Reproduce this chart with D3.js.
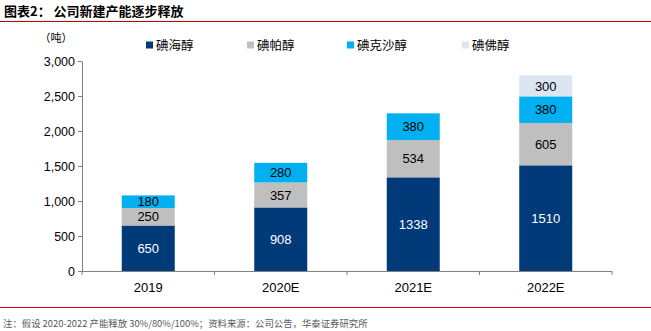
<!DOCTYPE html>
<html>
<head>
<meta charset="utf-8">
<script src="https://cdn.jsdelivr.net/npm/d3@7"></script>
<style>
  html, body { margin: 0; padding: 0; background: #fff; }
  svg { display: block; }
</style>
</head>
<body>
<svg id="chart" width="651" height="331"></svg>
<script>
// Capacity by product (tonnes), stacked per year
const years = ["2019", "2020E", "2021E", "2022E"];
const seriesNames = ["碘海醇", "碘帕醇", "碘克沙醇", "碘佛醇"];
const iohexol = [650, 908, 1338, 1510];
const iopamidol = [250, 357, 534, 605];
const iodixanol = [180, 280, 380, 380];
const ioversol = [0, 0, 0, 300];
const yTicks = [0, 500, 1000, 1500, 2000, 2500, 3000];

const colors = ["#003A78", "#BFBFBF", "#00B0F0", "#DCE6F2"];
const labelColors = ["#ffffff", "#000000", "#000000", "#000000"];

const rows = years.map((y, i) => ({
  year: y,
  "碘海醇": iohexol[i],
  "碘帕醇": iopamidol[i],
  "碘克沙醇": iodixanol[i],
  "碘佛醇": ioversol[i]
}));

const svg = d3.select("#chart");
const cjk = "'Noto Sans CJK SC', 'Noto Sans', sans-serif";
const latin = "'Liberation Sans', Arial, sans-serif";

// Title and rules
svg.append("text")
  .attr("x", 4).attr("y", 16)
  .attr("font-family", cjk).attr("font-weight", "bold")
  .attr("font-size", 13).attr("fill", "#000")
  .text("图表2：  公司新建产能逐步释放");
svg.append("line").attr("x1", 0).attr("x2", 651).attr("y1", 21.5).attr("y2", 21.5)
  .attr("stroke", "#C00000").attr("stroke-width", 1);
svg.append("line").attr("x1", 0).attr("x2", 651).attr("y1", 307.5).attr("y2", 307.5)
  .attr("stroke", "#E00000").attr("stroke-width", 1.2);

svg.append("text")
  .attr("x", 3).attr("y", 327)
  .attr("font-family", cjk).attr("font-size", 9.4).attr("fill", "#595959")
  .text("注：假设 2020-2022 产能释放 30%/80%/100%；资料来源：公司公告，华泰证券研究所");

// Scales
const x = d3.scaleBand().domain(years).range([82, 612]).paddingInner(0.6).paddingOuter(0.3);
const xTicks = d3.scaleBand().domain(years).range([82, 612]);
const y = d3.scaleLinear().domain([0, 3000]).range([271, 61]);

// Unit label
svg.append("text")
  .attr("x", 56).attr("y", 42)
  .attr("text-anchor", "middle")
  .attr("font-family", cjk).attr("font-size", 11).attr("fill", "#000")
  .text("（吨）");

// Y axis
const yAxis = d3.axisLeft(y).tickValues(yTicks).tickSize(4).tickSizeOuter(0)
  .tickFormat(d3.format(","));
const gy = svg.append("g").attr("transform", "translate(82,0)").call(yAxis);
gy.select(".domain").attr("stroke", "#808080");
gy.selectAll(".tick line").attr("stroke", "#808080");
gy.selectAll(".tick text").attr("font-family", latin).attr("font-size", 12.5)
  .attr("fill", "#000").attr("x", -7);

// Stacked bars
const stack = d3.stack().keys(seriesNames)(rows);
const layers = svg.append("g").selectAll("g").data(stack).join("g")
  .attr("fill", (d, i) => colors[i]);
layers.selectAll("rect").data(d => d.filter(p => p[1] - p[0] > 0)).join("rect")
  .attr("x", d => x(d.data.year))
  .attr("width", x.bandwidth())
  .attr("y", d => y(d[1]))
  .attr("height", d => y(d[0]) - y(d[1]));

// Value labels
stack.forEach((layer, li) => {
  svg.append("g").selectAll("text").data(layer.filter(p => p[1] - p[0] > 0)).join("text")
    .attr("x", d => x(d.data.year) + x.bandwidth() / 2)
    .attr("y", d => (y(d[0]) + y(d[1])) / 2)
    .attr("dy", "0.36em")
    .attr("text-anchor", "middle")
    .attr("font-family", latin).attr("font-size", 13)
    .attr("fill", labelColors[li])
    .text(d => d[1] - d[0]);
});

// X axis with category boundary ticks
const gx = svg.append("g").attr("transform", "translate(0,271)");
gx.append("line").attr("x1", 82).attr("x2", 612).attr("y1", 0.5).attr("y2", 0.5)
  .attr("stroke", "#808080");
const bounds = years.map(d => xTicks(d)).concat([612]);
gx.selectAll("line.b").data(bounds).join("line").attr("class", "b")
  .attr("x1", d => d).attr("x2", d => d).attr("y1", 0).attr("y2", 4)
  .attr("stroke", "#808080");
gx.selectAll("text").data(years).join("text")
  .attr("x", d => xTicks(d) + xTicks.bandwidth() / 2)
  .attr("y", 21)
  .attr("text-anchor", "middle")
  .attr("font-family", latin).attr("font-size", 13).attr("fill", "#000")
  .text(d => d);

// Legend
const legendX = [146, 247, 347, 462];
const lg = svg.append("g").selectAll("g").data(seriesNames).join("g")
  .attr("transform", (d, i) => `translate(${legendX[i]},45)`);
lg.append("rect").attr("x", 0).attr("y", -3.5).attr("width", 7).attr("height", 7)
  .attr("fill", (d, i) => colors[i]);
lg.append("text").attr("x", 10).attr("y", 0).attr("dy", "0.36em")
  .attr("font-family", cjk).attr("font-size", 12.5).attr("fill", "#000")
  .text(d => d);
</script>
</body>
</html>
